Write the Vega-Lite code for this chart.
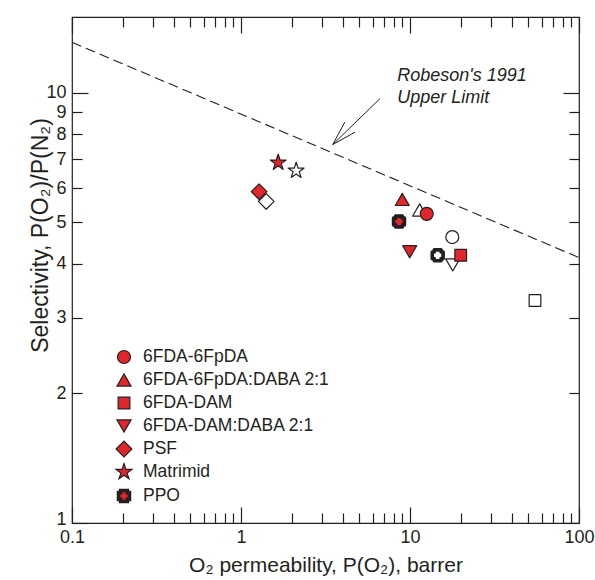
{
  "$schema": "https://vega.github.io/schema/vega-lite/v6.json",
  "width": 507,
  "height": 506,
  "autosize": {"type": "none"},
  "padding": {"left": 72, "top": 17, "right": 16, "bottom": 57},
  "background": "white",
  "config": {
    "font": "Liberation Sans",
    "view": {"stroke": "#231f20", "strokeWidth": 1.2},
    "axis": {
      "domain": false,
      "grid": false,
      "tickColor": "#231f20",
      "tickWidth": 1.2,
      "labelColor": "#231f20",
      "labelFont": "Liberation Sans",
      "labelFontSize": 18,
      "titleColor": "#231f20",
      "titleFont": "Liberation Sans",
      "titleFontSize": 21,
      "titleFontWeight": "normal"
    },
    "legend": {
      "symbolBaseFillColor": "#e2252b",
      "symbolBaseStrokeColor": "#231f20"
    }
  },
  "datasets": {
    "membranes": [
      {"polymer": "6FDA-6FpDA", "set": "A", "permeability": 12.56, "selectivity": 5.23},
      {"polymer": "6FDA-6FpDA:DABA 2:1", "set": "A", "permeability": 9.0, "selectivity": 5.65},
      {"polymer": "6FDA-DAM", "set": "A", "permeability": 19.95, "selectivity": 4.19},
      {"polymer": "6FDA-DAM:DABA 2:1", "set": "A", "permeability": 9.96, "selectivity": 4.27},
      {"polymer": "PSF", "set": "A", "permeability": 1.28, "selectivity": 5.89},
      {"polymer": "Matrimid", "set": "A", "permeability": 1.66, "selectivity": 6.88},
      {"polymer": "PPO", "set": "A", "permeability": 8.61, "selectivity": 5.02},
      {"polymer": "6FDA-6FpDA", "set": "B", "permeability": 17.8, "selectivity": 4.62},
      {"polymer": "6FDA-6FpDA:DABA 2:1", "set": "B", "permeability": 11.41, "selectivity": 5.34},
      {"polymer": "6FDA-DAM", "set": "B", "permeability": 54.9, "selectivity": 3.29},
      {"polymer": "6FDA-DAM:DABA 2:1", "set": "B", "permeability": 17.9, "selectivity": 3.98},
      {"polymer": "PSF", "set": "B", "permeability": 1.41, "selectivity": 5.59},
      {"polymer": "Matrimid", "set": "B", "permeability": 2.12, "selectivity": 6.59},
      {"polymer": "PPO", "set": "B", "permeability": 14.58, "selectivity": 4.19}
    ],
    "upperBound": [
      {"permeability": 0.1, "selectivity": 13.1},
      {"permeability": 100, "selectivity": 4.14}
    ],
    "pointer": [
      {"permeability": 6.64, "selectivity": 9.69, "permeability2": 3.49, "selectivity2": 7.58},
      {"permeability": 3.49, "selectivity": 7.58, "permeability2": 4.12, "selectivity2": 8.55},
      {"permeability": 3.49, "selectivity": 7.58, "permeability2": 4.73, "selectivity2": 8.10}
    ],
    "caption": [
      {"text": "Robeson's 1991", "permeability": 8.41, "selectivity": 10.64},
      {"text": "Upper Limit", "permeability": 8.41, "selectivity": 9.45}
    ]
  },
  "layer": [
    {
      "data": {"name": "upperBound"},
      "mark": {"type": "line", "stroke": "#231f20", "strokeWidth": 1.1, "strokeDash": [10, 5]},
      "encoding": {
        "x": {
          "field": "permeability", "type": "quantitative",
          "scale": {"type": "log", "domain": [0.1, 100], "nice": false},
          "axis": {
            "orient": "top", "labels": false, "title": null,
            "values": [0.1, 0.2, 0.3, 0.4, 0.5, 0.6, 0.7, 0.8, 0.9, 1, 2, 3, 4, 5, 6, 7, 8, 9, 10, 20, 30, 40, 50, 60, 70, 80, 90, 100],
            "tickSize": {"condition": {"test": "indexof([0.1, 1, 10, 100], datum.value) >= 0", "value": -16}, "value": -10}
          }
        },
        "y": {
          "field": "selectivity", "type": "quantitative",
          "scale": {"type": "log", "domain": [1, 15], "nice": false},
          "axis": {
            "orient": "right", "labels": false, "title": null,
            "values": [1, 2, 3, 4, 5, 6, 7, 8, 9, 10],
            "tickSize": {"condition": {"test": "indexof([1, 10], datum.value) >= 0", "value": -16}, "value": -10}
          }
        }
      }
    },
    {
      "data": {"name": "pointer"},
      "mark": {"type": "rule", "stroke": "#231f20", "strokeWidth": 1},
      "encoding": {
        "x": {"field": "permeability", "type": "quantitative", "scale": {"type": "log", "domain": [0.1, 100], "nice": false}, "axis": null},
        "y": {"field": "selectivity", "type": "quantitative", "scale": {"type": "log", "domain": [1, 15], "nice": false}, "axis": null},
        "x2": {"field": "permeability2"},
        "y2": {"field": "selectivity2"}
      }
    },
    {
      "data": {"name": "caption"},
      "mark": {"type": "text", "align": "left", "baseline": "alphabetic", "font": "Liberation Sans", "fontSize": 18, "fontStyle": "italic", "fill": "#231f20"},
      "encoding": {
        "x": {"field": "permeability", "type": "quantitative", "scale": {"type": "log", "domain": [0.1, 100], "nice": false}, "axis": null},
        "y": {"field": "selectivity", "type": "quantitative", "scale": {"type": "log", "domain": [1, 15], "nice": false}, "axis": null},
        "text": {"field": "text"}
      }
    },
    {
      "data": {"name": "membranes"},
      "mark": {"type": "point", "filled": true, "opacity": 1, "size": 256, "stroke": "#231f20", "strokeJoin": "round"},
      "encoding": {
        "x": {
          "field": "permeability", "type": "quantitative",
          "scale": {"type": "log", "domain": [0.1, 100], "nice": false},
          "axis": {
            "orient": "bottom",
            "title": "O₂ permeability, P(O₂), barrer",
            "titleY": 42, "titleBaseline": "middle",
            "values": [0.1, 0.2, 0.3, 0.4, 0.5, 0.6, 0.7, 0.8, 0.9, 1, 2, 3, 4, 5, 6, 7, 8, 9, 10, 20, 30, 40, 50, 60, 70, 80, 90, 100],
            "format": "~g",
            "labelExpr": "indexof([0.1, 1, 10, 100], datum.value) >= 0 ? datum.label : ''",
            "labelFlush": false,
            "labelPadding": 21,
            "tickSize": {"condition": {"test": "indexof([0.1, 1, 10, 100], datum.value) >= 0", "value": -16}, "value": -10}
          }
        },
        "y": {
          "field": "selectivity", "type": "quantitative",
          "scale": {"type": "log", "domain": [1, 15], "nice": false},
          "axis": {
            "orient": "left",
            "title": "Selectivity, P(O₂)/P(N₂)",
            "titleFontSize": 23,
            "titleX": -32, "titleY": 218, "titleBaseline": "middle",
            "values": [1, 2, 3, 4, 5, 6, 7, 8, 9, 10],
            "format": "~g",
            "labelFlush": false,
            "labelOffset": {"condition": {"test": "datum.value === 1", "value": -4}, "value": 0},
            "labelPadding": {"condition": {"test": "indexof([1, 10], datum.value) >= 0", "value": 22}, "value": 16},
            "tickSize": {"condition": {"test": "indexof([1, 10], datum.value) >= 0", "value": -16}, "value": -10}
          }
        },
        "shape": {
          "field": "polymer", "type": "nominal",
          "scale": {
            "domain": ["6FDA-6FpDA", "6FDA-6FpDA:DABA 2:1", "6FDA-DAM", "6FDA-DAM:DABA 2:1", "PSF", "Matrimid", "PPO"],
            "range": [
              "M0.81,0A0.81,0.81,0,1,1,-0.81,0A0.81,0.81,0,1,1,0.81,0Z",
              "M0,-0.76L0.875,0.76L-0.875,0.76Z",
              "M-0.73,-0.73H0.73V0.73H-0.73Z",
              "M0,0.76L0.875,-0.76L-0.875,-0.76Z",
              "M-0.98,0L0,-0.98L0.98,0L0,0.98Z",
              "M0,-1.05L0.236,-0.324L0.999,-0.324L0.381,0.124L0.617,0.849L0,0.401L-0.617,0.849L-0.381,0.124L-0.999,-0.324L-0.236,-0.324Z",
              "M-0.42,-0.68H0.42V-0.42H0.68V0.42H0.42V0.68H-0.42V0.42H-0.68V-0.42H-0.42Z"
            ]
          },
          "legend": {
            "orient": "none", "legendX": 42, "legendY": 331, "title": null, "padding": 0,
            "labelFont": "Liberation Sans", "labelFontSize": 17.5, "labelColor": "#231f20",
            "labelOffset": 9, "rowPadding": -5.4, "labelLimit": 0, "symbolSize": 256,
            "gridAlign": "all",
            "symbolFillColor": "#e2252b", "symbolStrokeColor": "#231f20"
          }
        },
        "strokeWidth": {
          "field": "polymer", "type": "nominal",
          "scale": {
            "type": "ordinal",
            "domain": ["6FDA-6FpDA", "6FDA-6FpDA:DABA 2:1", "6FDA-DAM", "6FDA-DAM:DABA 2:1", "PSF", "Matrimid", "PPO"],
            "range": [1.2, 1.2, 1.2, 1.2, 1.2, 1.2, 3.6]
          }
        },
        "fill": {
          "field": "set", "type": "nominal",
          "scale": {"domain": ["A", "B"], "range": ["#e2252b", "#ffffff"]},
          "legend": null
        },
        "order": {"field": "set", "sort": "descending"}
      }
    }
  ],
  "resolve": {"axis": {"x": "independent", "y": "independent"}}
}
